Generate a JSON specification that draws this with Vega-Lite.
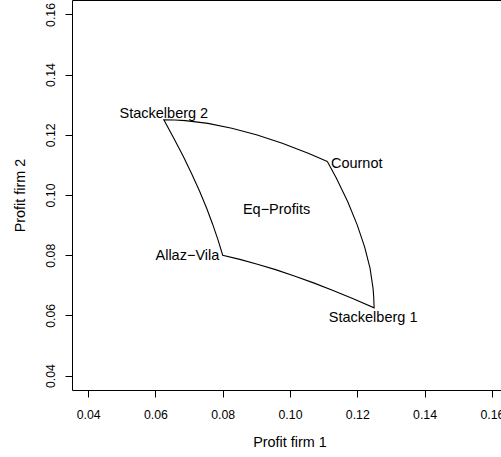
{
  "$schema": "https://vega.github.io/schema/vega-lite/v6.json",
  "autosize": "none",
  "width": 436,
  "height": 390,
  "padding": {"left": 72, "top": 0, "right": 0, "bottom": 67},
  "background": "white",
  "config": {
    "view": {"stroke": "black", "strokeWidth": 1},
    "axis": {
      "grid": false,
      "domain": false,
      "tickColor": "black",
      "tickSize": 7,
      "tickWidth": 1,
      "labelFont": "Liberation Sans",
      "labelFontSize": 12.3,
      "labelColor": "black",
      "labelFlush": false,
      "labelOverlap": false,
      "titleFont": "Liberation Sans",
      "titleFontSize": 14.4,
      "titleFontWeight": "normal",
      "titleColor": "black"
    }
  },
  "datasets": {
    "curve": [
      {"order": 1, "x": 0.1111, "y": 0.1111},
      {"order": 2, "x": 0.1138, "y": 0.1056},
      {"order": 3, "x": 0.1172, "y": 0.0977},
      {"order": 4, "x": 0.1200, "y": 0.0900},
      {"order": 5, "x": 0.1222, "y": 0.0827},
      {"order": 6, "x": 0.1238, "y": 0.0756},
      {"order": 7, "x": 0.1247, "y": 0.0689},
      {"order": 8, "x": 0.1249, "y": 0.0657},
      {"order": 9, "x": 0.1250, "y": 0.0625},
      {"order": 10, "x": 0.1188, "y": 0.0655},
      {"order": 11, "x": 0.1128, "y": 0.0683},
      {"order": 12, "x": 0.1070, "y": 0.0708},
      {"order": 13, "x": 0.1013, "y": 0.0731},
      {"order": 14, "x": 0.0957, "y": 0.0752},
      {"order": 15, "x": 0.0903, "y": 0.0770},
      {"order": 16, "x": 0.0851, "y": 0.0786},
      {"order": 17, "x": 0.0800, "y": 0.0800},
      {"order": 18, "x": 0.0786, "y": 0.0851},
      {"order": 19, "x": 0.0770, "y": 0.0903},
      {"order": 20, "x": 0.0752, "y": 0.0957},
      {"order": 21, "x": 0.0731, "y": 0.1013},
      {"order": 22, "x": 0.0708, "y": 0.1070},
      {"order": 23, "x": 0.0683, "y": 0.1128},
      {"order": 24, "x": 0.0655, "y": 0.1188},
      {"order": 25, "x": 0.0625, "y": 0.1250},
      {"order": 26, "x": 0.0657, "y": 0.1249},
      {"order": 27, "x": 0.0689, "y": 0.1247},
      {"order": 28, "x": 0.0756, "y": 0.1238},
      {"order": 29, "x": 0.0827, "y": 0.1222},
      {"order": 30, "x": 0.0900, "y": 0.1200},
      {"order": 31, "x": 0.0977, "y": 0.1172},
      {"order": 32, "x": 0.1056, "y": 0.1138},
      {"order": 33, "x": 0.1111, "y": 0.1111}
    ],
    "labels": [
      {"label": "Stackelberg 2", "x": 0.0625, "y": 0.125},
      {"label": "Cournot", "x": 0.1111, "y": 0.1111},
      {"label": "Stackelberg 1", "x": 0.125, "y": 0.0625},
      {"label": "Allaz−Vila", "x": 0.08, "y": 0.08},
      {"label": "Eq−Profits", "x": 0.096, "y": 0.0955}
    ]
  },
  "encoding": {
    "x": {
      "field": "x",
      "type": "quantitative",
      "scale": {"domain": [0.0352, 0.1648], "nice": false, "zero": false},
      "axis": {
        "title": "Profit firm 1",
        "values": [0.04, 0.06, 0.08, 0.10, 0.12, 0.14, 0.16],
        "format": ".2f",
        "labelBaseline": "alphabetic",
        "labelPadding": 21.3,
        "titleX": 217.5,
        "titleY": 56,
        "titleAlign": "center",
        "titleBaseline": "alphabetic"
      }
    },
    "y": {
      "field": "y",
      "type": "quantitative",
      "scale": {"domain": [0.0352, 0.1648], "nice": false, "zero": false},
      "axis": {
        "title": "Profit firm 2",
        "values": [0.04, 0.06, 0.08, 0.10, 0.12, 0.14, 0.16],
        "format": ".2f",
        "labelAngle": 270,
        "labelAlign": "center",
        "labelBaseline": "alphabetic",
        "labelPadding": 11,
        "titleAngle": 270,
        "titleX": -48,
        "titleY": 195,
        "titleAlign": "center",
        "titleBaseline": "alphabetic"
      }
    }
  },
  "layer": [
    {
      "data": {"name": "curve"},
      "mark": {"type": "line", "color": "black", "strokeWidth": 1.1, "clip": true},
      "encoding": {"order": {"field": "order", "type": "quantitative"}}
    },
    {
      "data": {"name": "labels"},
      "transform": [{"filter": "datum.label === 'Stackelberg 2'"}],
      "mark": {"type": "text", "font": "Liberation Sans", "fontSize": 14.5, "color": "black", "align": "center", "baseline": "alphabetic", "dy": -2},
      "encoding": {"text": {"field": "label"}}
    },
    {
      "data": {"name": "labels"},
      "transform": [{"filter": "datum.label === 'Cournot'"}],
      "mark": {"type": "text", "font": "Liberation Sans", "fontSize": 14.5, "color": "black", "align": "left", "baseline": "alphabetic", "dx": 3.6, "dy": 6.2},
      "encoding": {"text": {"field": "label"}}
    },
    {
      "data": {"name": "labels"},
      "transform": [{"filter": "datum.label === 'Stackelberg 1'"}],
      "mark": {"type": "text", "font": "Liberation Sans", "fontSize": 14.5, "color": "black", "align": "center", "baseline": "alphabetic", "dx": -1, "dy": 14.4},
      "encoding": {"text": {"field": "label"}}
    },
    {
      "data": {"name": "labels"},
      "transform": [{"filter": "datum.label === 'Allaz−Vila'"}],
      "mark": {"type": "text", "font": "Liberation Sans", "fontSize": 14.5, "color": "black", "align": "right", "baseline": "alphabetic", "dx": -3.4, "dy": 5.3},
      "encoding": {"text": {"field": "label"}}
    },
    {
      "data": {"name": "labels"},
      "transform": [{"filter": "datum.label === 'Eq−Profits'"}],
      "mark": {"type": "text", "font": "Liberation Sans", "fontSize": 14.5, "color": "black", "align": "center", "baseline": "alphabetic", "dy": 5.5},
      "encoding": {"text": {"field": "label"}}
    }
  ]
}
